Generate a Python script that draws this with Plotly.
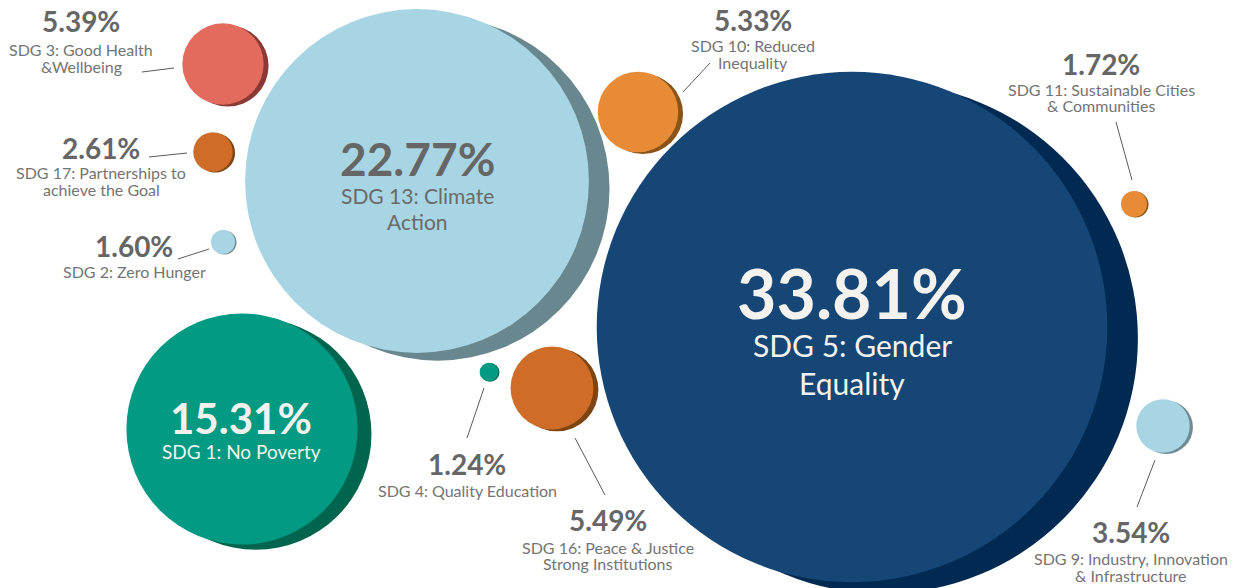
import plotly.graph_objects as go

# ---- data ----
categories = ["SDG 5: Gender Equality", "SDG 13: Climate Action", "SDG 1: No Poverty",
              "SDG 16: Peace & Justice Strong Institutions", "SDG 3: Good Health &Wellbeing",
              "SDG 10: Reduced Inequality", "SDG 9: Industry, Innovation & Infrastructure",
              "SDG 17: Partnerships to achieve the Goal", "SDG 11: Sustainable Cities & Communities",
              "SDG 2: Zero Hunger", "SDG 4: Quality Education"]
values = [33.81, 22.77, 15.31, 5.49, 5.39, 5.33, 3.54, 2.61, 1.72, 1.60, 1.24]
label_lines = [["SDG 5: Gender", "Equality"], ["SDG 13: Climate", "Action"], ["SDG 1: No Poverty"],
               ["SDG 16: Peace & Justice", "Strong Institutions"], ["SDG 3: Good Health", "&Wellbeing"],
               ["SDG 10: Reduced", "Inequality"], ["SDG 9: Industry, Innovation", "& Infrastructure"],
               ["SDG 17: Partnerships to", "achieve the Goal"], ["SDG 11: Sustainable Cities", "& Communities"],
               ["SDG 2: Zero Hunger"], ["SDG 4: Quality Education"]]

# ---- layout (pixel-space positions) ----
cx = [852, 417, 242, 552, 223, 638, 1163, 213, 1134, 223, 489]
cy = [327, 181, 429, 388, 64, 112, 426, 152, 204, 242, 372]
fill = ["#154675", "#a8d5e3", "#029a82", "#cf6d28", "#e26b5e", "#e88b36", "#a8d5e3",
        "#cf6d28", "#e88b36", "#a8d5e3", "#029a82"]
shade = ["#012a52", "#69878f", "#00654f", "#7d4512", "#8a3a34", "#8a5418", "#6f8a93",
         "#7d4512", "#8a5418", "#6f8a93", "#016652"]
tx = [852, 417, 241, 608, 81, 753, 1131, 101, 1101, 134, 467]
ty_pct = [292, 158, 418, 520, 21, 20, 532, 148, 64, 246, 464]
ty_lab = [345, 195, 451, 547, 49, 45, 558, 172, 89, 271, 490]
gap = [38, 26, 0, 16, 17, 17, 17, 17, 16, 0, 0]
pct_size = [68, 46, 42, 28, 28, 28, 28, 28, 28, 28, 28]
lab_size = [30, 21, 19, 16, 16, 16, 16, 16, 16, 16, 16]
txt_col = ["#f4f2ee", "#666666", "#f4f2ee"] + ["#666666"] * 8
lab_col = ["#f4f2ee", "#6a6a6a", "#f4f2ee"] + ["#747474"] * 8
# leader lines
lead = [None, None, None, ((575, 438), (605, 495)), ((142, 72), (174, 68)),
        ((683, 92), (710, 63)), ((1155, 460), (1137, 507)), ((149, 157), (187, 153)),
        ((1116, 122), (1132, 180)), ((178, 259), (209, 249)), ((484, 388), (467, 438))]

K = 7.55  # px of radius per percent point
radius = [K * v for v in values]
diam = [2 * r for r in radius]

fig = go.Figure()
fig.add_trace(go.Scatter(
    x=[x + 0.12 * r for x, r in zip(cx, radius)],
    y=[y + 0.045 * r for y, r in zip(cy, radius)],
    mode="markers",
    marker=dict(size=diam, sizemode="diameter", sizeref=1, color=shade, line=dict(width=0), opacity=1),
    hoverinfo="skip", showlegend=False))
fig.add_trace(go.Scatter(
    x=cx, y=cy, mode="markers",
    marker=dict(size=diam, sizemode="diameter", sizeref=1, color=fill, line=dict(width=0), opacity=1),
    text=[f"{c}: {v:.2f}%" for c, v in zip(categories, values)], hoverinfo="text",
    showlegend=False))

lx, ly = [], []
for seg in lead:
    if seg:
        lx += [seg[0][0], seg[1][0], None]
        ly += [seg[0][1], seg[1][1], None]
fig.add_trace(go.Scatter(x=lx, y=ly, mode="lines", line=dict(color="#5a5a5a", width=1),
                         hoverinfo="skip", showlegend=False))

FONT = "Lato"
ann = []
for i, v in enumerate(values):
    ann.append(dict(x=tx[i], y=ty_pct[i], text=f"<b>{v:.2f}%</b>", showarrow=False,
                    xanchor="center", yanchor="middle",
                    font=dict(family=FONT, size=pct_size[i], color=txt_col[i])))
    for j, line in enumerate(label_lines[i]):
        ann.append(dict(x=tx[i], y=ty_lab[i] + j * gap[i], text=line, showarrow=False,
                        xanchor="center", yanchor="middle",
                        font=dict(family=FONT, size=lab_size[i], color=lab_col[i])))

# page body has an 8px margin: offset the ranges so data units equal screenshot pixels
OFF = 8
fig.update_layout(
    width=1236, height=588, margin=dict(l=0, r=0, t=0, b=0),
    paper_bgcolor="white", plot_bgcolor="white",
    xaxis=dict(range=[OFF, 1236 + OFF], visible=False, fixedrange=True),
    yaxis=dict(range=[588 + OFF, OFF], visible=False, fixedrange=True),
    annotations=ann, showlegend=False)

fig.write_html("out.html")
